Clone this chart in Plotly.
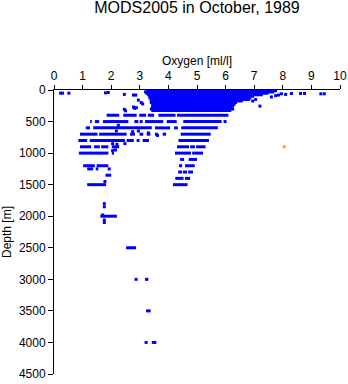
import plotly.graph_objects as go

# Runs of closely spaced observations: depth (m), first and last oxygen (ml/l)
run_depth = [10, 30, 50, 75, 100, 125, 150, 175, 200, 225, 250, 275, 300, 325,
             400, 400, 400, 400, 400, 400,
             500, 500, 500, 500, 500, 500, 500, 500,
             600, 600, 600, 600, 600,
             700, 700, 700, 700, 700, 700, 700, 700,
             800, 800, 800, 800, 800, 800,
             900, 900, 900, 900, 900, 900, 900,
             1000, 1000, 1000, 1000,
             1100, 1100,
             1200, 1200, 1200, 1200,
             1250, 1250,
             1300, 1300, 1300,
             1350,
             1400, 1400,
             1500, 1500,
             2000, 2500, 3000, 3500, 4000]
run_start = [3.20, 3.15, 3.20, 3.25, 3.30, 3.30, 3.35, 3.35, 3.35, 3.40, 3.40, 3.40, 3.35, 3.40,
             1.84, 2.42, 2.98, 3.28, 3.65, 4.30,
             1.26, 1.43, 1.71, 2.81, 3.00, 3.18, 3.94, 4.52,
             1.11, 1.37, 3.53, 4.20, 4.45,
             0.91, 1.58, 2.66, 2.99, 3.24, 3.53, 3.80, 4.43,
             0.85, 1.25, 2.54, 2.89, 3.10, 4.35,
             0.91, 1.40, 1.65, 2.02, 4.30, 4.76, 4.97,
             0.87, 2.02, 4.23, 4.83,
             4.41, 4.71,
             1.02, 1.49, 4.37, 4.58,
             1.16, 1.46,
             4.34, 4.51, 4.69,
             1.80,
             4.24, 4.58,
             1.16, 4.16,
             1.62, 2.52, 3.18, 3.22, 3.42]
run_end = [7.80, 7.70, 7.50, 7.30, 7.00, 6.90, 6.85, 6.60, 6.40, 6.35, 6.30, 6.25, 6.30, 6.20,
           2.28, 2.89, 3.22, 3.50, 4.25, 6.10,
           1.32, 1.58, 2.60, 2.95, 3.10, 3.82, 4.29, 5.86,
           1.26, 3.42, 4.06, 4.33, 5.73,
           1.52, 2.54, 2.83, 3.12, 3.37, 3.63, 3.92, 5.48,
           1.16, 2.48, 2.79, 2.99, 3.32, 5.42,
           1.30, 1.60, 1.90, 2.28, 4.72, 4.93, 5.30,
           1.90, 2.10, 4.79, 5.21,
           4.55, 5.00,
           1.43, 1.90, 4.48, 4.92,
           1.37, 1.55,
           4.48, 4.65, 4.86,
           2.00,
           4.53, 4.76,
           1.82, 4.67,
           2.20, 2.87, 3.30, 3.38, 3.58]

# Isolated observations
pt_oxygen = [0.23, 0.30, 0.52, 1.80, 1.90, 2.46, 2.78, 2.86, 2.95, 3.05, 3.10,
             2.78, 2.88, 2.82, 2.46, 2.50,
             7.95, 8.10, 8.30, 8.62, 8.76, 9.33, 9.45, 7.85, 7.75, 7.60, 7.05, 6.95, 7.20,
             5.98, 2.25, 2.18, 2.75, 2.95, 3.30, 3.62, 2.05, 2.20, 2.48, 2.15, 2.05,
             1.93, 1.78, 1.76, 1.76, 1.70, 1.76, 1.76, 2.87, 3.22]
pt_depth = [50, 50, 50, 45, 40, 70, 80, 80, 160, 200, 220,
            270, 280, 290, 306, 330,
            60, 70, 55, 55, 55, 60, 60, 80, 90, 110, 150, 175, 255,
            500, 560, 650, 660, 650, 680, 720, 850, 860, 850, 950, 960,
            1250, 1450, 1800, 1850, 1980, 2060, 2100, 3000, 4000]

# Flagged observation
flag_oxygen = [8.05]
flag_depth = [900]

x_ticks = [0, 1, 2, 3, 4, 5, 6, 7, 8, 9, 10]
y_ticks = [0, 500, 1000, 1500, 2000, 2500, 3000, 3500, 4000, 4500]

blue = "#0000FF"

seg_x, seg_y = [], []
for d, s, e in zip(run_depth, run_start, run_end):
    seg_x += [s, e, None]
    seg_y += [d, d, None]

fig = go.Figure()
fig.add_trace(go.Scatter(x=seg_x, y=seg_y, mode="lines",
                         line=dict(color=blue, width=3), hoverinfo="skip"))
fig.add_trace(go.Scatter(x=pt_oxygen, y=pt_depth, mode="markers",
                         marker=dict(color=blue, size=3, symbol="square", line=dict(width=0))))
fig.add_trace(go.Scatter(x=flag_oxygen, y=flag_depth, mode="markers",
                         marker=dict(color="#FFA500", size=3, symbol="square", line=dict(width=0))))

font = "Liberation Sans, Arial, sans-serif"
fig.update_layout(
    width=348, height=384,
    margin=dict(l=54, r=8, t=90, b=10, autoexpand=False),
    paper_bgcolor="white", plot_bgcolor="white",
    showlegend=False,
    font=dict(family=font, size=12, color="black"),
    title=dict(text="MODS2005 in October, 1989", font=dict(size=16, family=font),
               x=0.5, xref="paper", xanchor="center",
               y=1 - 7 / 384, yref="container", yanchor="middle"),
    xaxis=dict(side="top", range=[0, 10], tickvals=x_ticks, ticktext=[str(v) for v in x_ticks],
               showline=True, linecolor="black", linewidth=1, mirror=False,
               ticks="outside", ticklen=4, tickcolor="black", tickwidth=1,
               showgrid=False, zeroline=False, automargin=False,
               title=dict(text="Oxygen [ml/l]", font=dict(size=12), standoff=1)),
    yaxis=dict(range=[4500, 0], tickvals=y_ticks, ticktext=[str(v) for v in y_ticks],
               showline=True, linecolor="black", linewidth=1,
               ticks="outside", ticklen=5, tickcolor="black", tickwidth=1,
               showgrid=False, zeroline=False, automargin=False,
               title=dict(text="Depth [m]", font=dict(size=12), standoff=6)),
)

fig.write_html("out.html")
